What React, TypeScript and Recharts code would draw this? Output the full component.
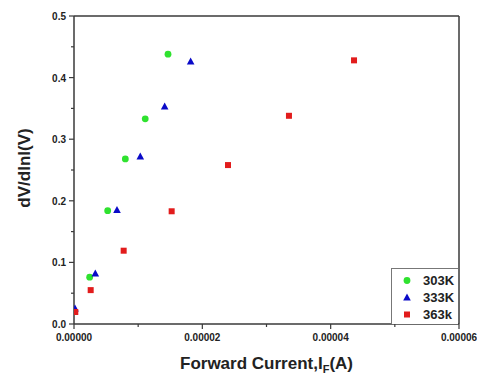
import React from "react"
import {
  ScatterChart,
  Scatter,
  XAxis,
  YAxis,
  ReferenceLine,
  Label,
} from "recharts"

// readings (x = forward current in A, y = dV/dlnI in V)
const current303 = [0.0000001, 0.00000244, 0.00000525, 0.0000080, 0.0000111, 0.00001465]
const slope303 = [0.02, 0.076, 0.184, 0.268, 0.333, 0.438]

const current333 = [0.00000016, 0.00000332, 0.0000067, 0.00001033, 0.00001413, 0.00001818]
const slope333 = [0.025, 0.082, 0.185, 0.272, 0.353, 0.426]

const current363 = [0.0000002, 0.0000026, 0.00000774, 0.00001522, 0.000024, 0.0000335, 0.00004364]
const slope363 = [0.0195, 0.055, 0.119, 0.183, 0.258, 0.338, 0.428]

const xTicks = [0, 0.00001, 0.00002, 0.00003, 0.00004, 0.00005, 0.00006]
const xMajor = [0, 0.00002, 0.00004, 0.00006]
const yTicks = [0, 0.05, 0.1, 0.15, 0.2, 0.25, 0.3, 0.35, 0.4, 0.45, 0.5]
const yMajor = [0, 0.1, 0.2, 0.3, 0.4, 0.5]

const seriesNames = ["303K", "333K", "363k"]
const colors = ["#2fe22f", "#0a0ac8", "#e21c1c"]

const toPoints = (xs: number[], ys: number[]) => xs.map((x, i) => ({ x, y: ys[i] }))

const AXIS = "#3a3a3a"
const FONT = "'Liberation Sans', Arial, sans-serif"

const isMajor = (v: number, list: number[]) => list.some((m) => Math.abs(m - v) < 1e-9)

const XTick = (props: any) => {
  const { x, y, payload } = props
  const major = isMajor(payload.value, xMajor)
  return (
    <g>
      <line x1={x} x2={x} y1={y} y2={y + (major ? 5 : 3)} stroke={AXIS} strokeWidth={1.2} />
      {major && (
        <text x={x} y={y + 17} textAnchor="middle" fontFamily={FONT} fontWeight="bold" fontSize={10} fill="#222">
          {payload.value.toFixed(5)}
        </text>
      )}
    </g>
  )
}

const YTick = (props: any) => {
  const { x, y, payload } = props
  const major = isMajor(payload.value, yMajor)
  return (
    <g>
      <line x1={x} x2={x - (major ? 5 : 3)} y1={y} y2={y} stroke={AXIS} strokeWidth={1.2} />
      {major && (
        <text x={x - 8} y={y + 4} textAnchor="end" fontFamily={FONT} fontWeight="bold" fontSize={10} fill="#222">
          {payload.value.toFixed(1)}
        </text>
      )}
    </g>
  )
}

const Marker = ({ cx, cy, kind }: any) => {
  if (cx == null || cy == null) return null
  if (kind === 0) return <circle cx={cx} cy={cy} r={3.4} fill={colors[0]} />
  if (kind === 1)
    return <polygon points={`${cx},${cy - 4} ${cx + 3.8},${cy + 3} ${cx - 3.8},${cy + 3}`} fill={colors[1]} />
  return <rect x={cx - 3} y={cy - 3} width={6} height={6} fill={colors[2]} />
}

const LegendBox = () => (
  <div
    style={{
      position: "absolute",
      left: 391,
      top: 268,
      width: 67,
      height: 56,
      boxSizing: "border-box",
      border: "1px solid #777",
      borderRight: "none",
      borderBottom: "none",
      background: "#fff",
      fontFamily: FONT,
      fontWeight: "bold",
      fontSize: 13,
      color: "#222",
      paddingTop: 3,
    }}
  >
    {seriesNames.map((name, i) => (
      <div key={name} style={{ display: "flex", alignItems: "center", height: 17 }}>
        <svg width={30} height={17}>
          <Marker cx={15} cy={8.5} kind={i} />
        </svg>
        <span style={{ marginLeft: 1 }}>{name}</span>
      </div>
    ))}
  </div>
)

export default function App() {
  return (
    <div style={{ position: "absolute", left: 0, top: 0, width: 477, height: 376, background: "#fff" }}>
      <ScatterChart width={477} height={376} margin={{ top: 16, right: 18, left: 0, bottom: 0 }}>
        <XAxis
          type="number"
          dataKey="x"
          domain={[0, 0.00006]}
          ticks={xTicks}
          interval={0}
          height={52}
          stroke={AXIS}
          strokeWidth={1.5}
          tickLine={false}
          tickSize={0}
          tickMargin={0}
          tick={<XTick />}
          allowDataOverflow
        >
          <Label
            content={() => (
              <text x={266.5} y={369} textAnchor="middle" fontFamily={FONT} fontWeight="bold" fontSize={17} fill="#222">
                Forward Current,I
                <tspan fontSize={11} dy={4}>F</tspan>
                <tspan dy={-4}>(A)</tspan>
              </text>
            )}
          />
        </XAxis>
        <YAxis
          type="number"
          dataKey="y"
          domain={[0, 0.5]}
          ticks={yTicks}
          interval={0}
          width={74}
          stroke={AXIS}
          strokeWidth={1.5}
          tickLine={false}
          tickSize={0}
          tickMargin={0}
          tick={<YTick />}
          allowDataOverflow
        >
          <Label
            content={() => (
              <text
                x={30}
                y={168}
                textAnchor="middle"
                transform="rotate(-90 30 168)"
                fontFamily={FONT}
                fontWeight="bold"
                fontSize={17}
                fill="#222"
              >
                dV/dlnI(V)
              </text>
            )}
          />
        </YAxis>
        <ReferenceLine y={0.5} stroke={AXIS} strokeWidth={1.5} />
        <ReferenceLine x={0.00006} stroke={AXIS} strokeWidth={1.5} />
        <Scatter
          name={seriesNames[0]}
          data={toPoints(current303, slope303)}
          fill={colors[0]}
          shape={(p: any) => <Marker {...p} kind={0} />}
          isAnimationActive={false}
        />
        <Scatter
          name={seriesNames[1]}
          data={toPoints(current333, slope333)}
          fill={colors[1]}
          shape={(p: any) => <Marker {...p} kind={1} />}
          isAnimationActive={false}
        />
        <Scatter
          name={seriesNames[2]}
          data={toPoints(current363, slope363)}
          fill={colors[2]}
          shape={(p: any) => <Marker {...p} kind={2} />}
          isAnimationActive={false}
        />
      </ScatterChart>
      <LegendBox />
    </div>
  )
}
